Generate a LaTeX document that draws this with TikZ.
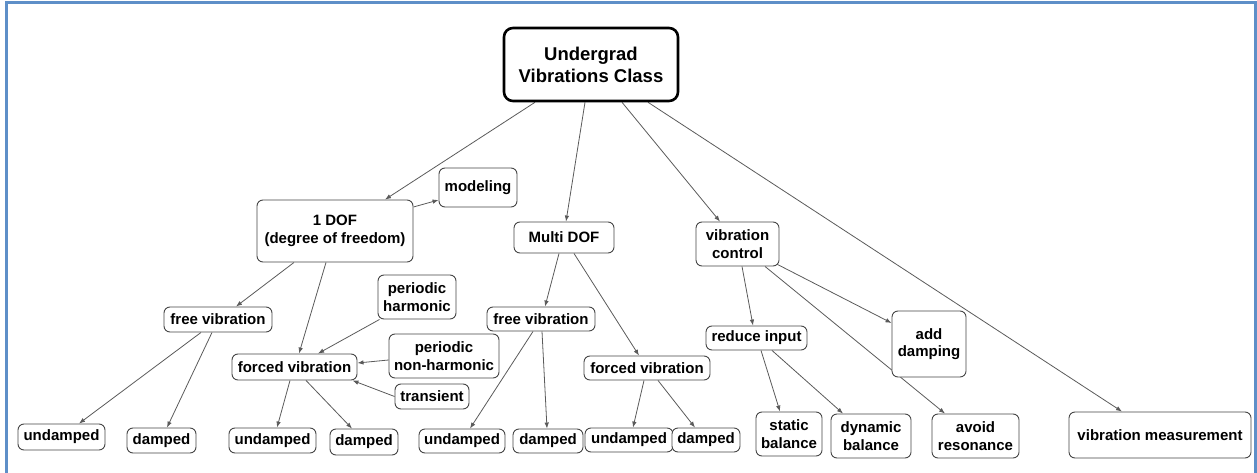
\documentclass[tikz,border=0pt]{standalone}
\usepackage{fontspec}
\setmainfont{Liberation Sans}
\usepackage{xcolor}
\usetikzlibrary{ positioning, arrows.meta, backgrounds }
\definecolor{frame}{HTML}{5E8FC8}
\definecolor{edge}{HTML}{5A5A5A}
\definecolor{boxline}{HTML}{454545}

\begin{document}
\begin{tikzpicture}[
  x=1pt, y=-1pt,
  box/.style={draw=boxline, line width=0.9pt, rounded corners=6pt, fill=white,
              inner sep=1pt, align=center, font=\fontsize{15}{17.5}\selectfont\bfseries},
  rootbox/.style={box, draw=black, line width=2.6pt, rounded corners=9pt,
              font=\fontsize{18.5}{22}\selectfont\bfseries},
  ar/.style={-{Latex[length=6pt,width=4.5pt]}, line width=0.8pt, edge},
]
  \useasboundingbox (0,0) rectangle (1257,473);
  \draw[frame, line width=3pt] (6,473) -- (6,3) -- (1255,3) -- (1255,473);

  % top
  \node[rootbox, minimum width=174pt, minimum height=73pt] (root) at (591,64.5) {Undergrad\\Vibrations Class};

  % 1 DOF branch
  \node[box, minimum width=156pt, minimum height=62pt] (dof1) at (335,231) {1 DOF\\(degree of freedom)};
  \node[box, minimum width=78pt, minimum height=39pt] (model) at (478,187.5) {modeling};
  \node[box, minimum width=108pt, minimum height=25pt] (free1) at (218,319.5) {free vibration};
  \node[box, minimum width=125pt, minimum height=26pt] (forced1) at (294.5,367) {forced vibration};
  \node[box, minimum width=78pt, minimum height=44pt] (perh) at (417,297) {periodic\\harmonic};
  \node[box, minimum width=110pt, minimum height=44pt] (pernh) at (444,356) {periodic\\non-harmonic};
  \node[box, minimum width=74pt, minimum height=25pt] (trans) at (432,396.5) {transient};
  \node[box, minimum width=87pt, minimum height=26pt] (und1) at (61.5,437) {undamped};
  \node[box, minimum width=69pt, minimum height=25pt] (dmp1) at (161.5,440.5) {damped};
  \node[box, minimum width=87pt, minimum height=25pt] (und2) at (272.5,440.5) {undamped};
  \node[box, minimum width=68pt, minimum height=26pt] (dmp2) at (364,442) {damped};

  % multi DOF branch
  \node[box, minimum width=100pt, minimum height=31pt] (multi) at (564,237.5) {Multi DOF};
  \node[box, minimum width=108pt, minimum height=24pt] (free2) at (541,319) {free vibration};
  \node[box, minimum width=126pt, minimum height=24pt] (forced2) at (647,368) {forced vibration};
  \node[box, minimum width=86pt, minimum height=24pt] (und3) at (462,441) {undamped};
  \node[box, minimum width=70pt, minimum height=24pt] (dmp3) at (548,441) {damped};
  \node[box, minimum width=88pt, minimum height=24pt] (und4) at (629,440) {undamped};
  \node[box, minimum width=68pt, minimum height=24pt] (dmp4) at (706,440) {damped};

  % control branch
  \node[box, minimum width=83pt, minimum height=44pt] (vctrl) at (737.5,244) {vibration\\control};
  \node[box, minimum width=101pt, minimum height=24pt] (reduce) at (756.5,338) {reduce input};
  \node[box, minimum width=66pt, minimum height=44pt] (static) at (789,434) {static\\balance};
  \node[box, minimum width=80pt, minimum height=44pt] (dynamic) at (871,436) {dynamic\\balance};
  \node[box, minimum width=74pt, minimum height=66pt] (adddamp) at (929,344) {add\\damping};
  \node[box, minimum width=87pt, minimum height=44pt] (avoid) at (975.5,436) {avoid\\resonance};
  \node[box, minimum width=182pt, minimum height=46pt] (vmeas) at (1160,435) {vibration measurement};

  \begin{scope}[on background layer]
    \draw[ar] ([xshift=-56pt]root.south) -- ([xshift=50pt]dof1.north);
    \draw[ar] ([xshift=-6pt]root.south) -- ([xshift=2pt]multi.north);
    \draw[ar] ([xshift=31pt]root.south) -- ([xshift=-17.5pt]vctrl.north);
    \draw[ar] ([xshift=57pt]root.south) -- ([xshift=-38pt]vmeas.north);

    \draw[ar] ([yshift=24pt]dof1.east) -- ([yshift=-12.5pt]model.west);
    \draw[ar] ([xshift=-41pt]dof1.south) -- ([xshift=18pt]free1.north);
    \draw[ar] ([xshift=-9pt]dof1.south) -- ([xshift=4.5pt]forced1.north);
    \draw[ar] ([xshift=-17pt]free1.south) -- ([xshift=17.5pt]und1.north);
    \draw[ar] ([xshift=-6pt]free1.south) -- ([xshift=5.5pt]dmp1.north);
    \draw[ar] ([xshift=-4.5pt]forced1.south) -- ([xshift=4.5pt]und2.north);
    \draw[ar] ([xshift=11.5pt]forced1.south) -- ([xshift=-12pt]dmp2.north);
    \draw[ar] ([xshift=2pt]perh.south west) -- ([xshift=23.5pt]forced1.north);
    \draw[ar] ([yshift=-4pt]pernh.west) -- ([yshift=4pt]forced1.east);
    \draw[ar] (trans.west) -- ([xshift=-5pt]forced1.south east);

    \draw[ar] ([xshift=-5pt]multi.south) -- ([xshift=4pt]free2.north);
    \draw[ar] ([xshift=10pt]multi.south) -- ([xshift=-8pt]forced2.north);
    \draw[ar] ([xshift=-8pt]free2.south) -- ([xshift=8pt]und3.north);
    \draw[ar] ([xshift=1pt]free2.south) -- ([xshift=-1pt]dmp3.north);
    \draw[ar] ([xshift=-3pt]forced2.south) -- ([xshift=4pt]und4.north);
    \draw[ar] ([xshift=11pt]forced2.south) -- ([xshift=-11pt]dmp4.north);

    \draw[ar] ([xshift=4.5pt]vctrl.south) -- ([xshift=-3.5pt]reduce.north);
    \draw[ar] ([xshift=-2pt,yshift=2pt]vctrl.south east) -- ([yshift=21pt]adddamp.west);
    \draw[ar] ([xshift=27.5pt]vctrl.south) -- ([xshift=-30.5pt]avoid.north);
    \draw[ar] ([xshift=4.5pt]reduce.south) -- ([xshift=-9pt]static.north);
    \draw[ar] ([xshift=15.5pt]reduce.south) -- ([xshift=-28pt]dynamic.north);
  \end{scope}
\end{tikzpicture}
\end{document}
